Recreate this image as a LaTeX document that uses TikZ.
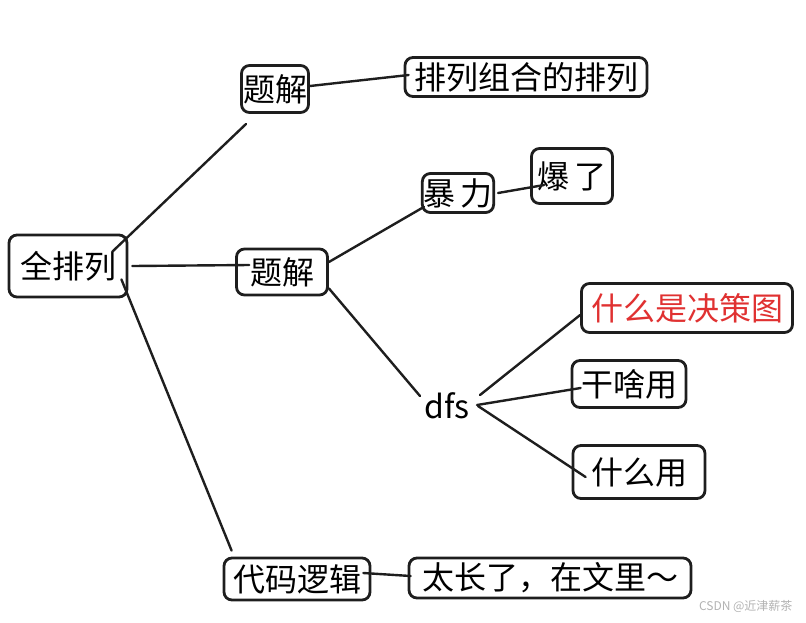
\documentclass[tikz,border=0pt]{standalone}
\usepackage{fontspec}
\setmainfont{Noto Sans CJK SC}
\usepackage{xcolor}
\usepackage{tikz}
\usetikzlibrary{calc}

\definecolor{inkred}{HTML}{E03131}
\definecolor{ink}{HTML}{1E1E1E}

\tikzset{
	box/.style={draw=ink,rounded corners=8pt,line width=2.8pt,inner sep=1pt,
		font=\fontsize{32}{38}\selectfont},
	word/.style={inner sep=0pt,font=\fontsize{32}{38}\selectfont},
	link/.style={draw=ink,line width=2.4pt,line cap=round}
}

\begin{document}
\begin{tikzpicture}[x=1pt,y=-1pt]
	\useasboundingbox (0,0) rectangle (806,622);
	
	\node[box,minimum width=118pt,minimum height=62pt] (qpl) at (68,266) {全排列};
	\node[box,minimum width=67pt,minimum height=47pt] (tja) at (275,89) {题解};
	\node[box,minimum width=242pt,minimum height=39pt] (plzh) at (526,77) {排列组合的排列};
	\node[box,minimum width=91pt,minimum height=46pt] (tjb) at (282,272) {题解};
	\node[box,minimum width=71pt,minimum height=39pt] (bl) at (458,193) {暴\,力};
	\node[box,minimum width=81pt,minimum height=55pt] (bz) at (572,176) {爆\,了};
	\node[word] (dfs) at (447,406) {dfs};
	\node[box,minimum width=211pt,minimum height=49pt,text=inkred] (jct) at (687,308) {什么是决策图};
	\node[box,minimum width=114pt,minimum height=47pt] (gsy) at (629,384) {干啥用};
	\node[box,minimum width=132pt,minimum height=53pt] (smy) at (639,472) {什么用};
	\node[box,minimum width=146pt,minimum height=42pt] (dmlj) at (297,579) {代码逻辑};
	\node[box,minimum width=282pt,minimum height=40pt] (tcl) at (550,578) {太长了，在文里～};
	
	\draw[link] ([xshift=-16pt,yshift=-18pt]qpl.north east) -- ([xshift=6pt,yshift=-10pt]tja.south west);
	\draw[link] ([xshift=4pt]qpl.east) -- ([xshift=14pt,yshift=7pt]tjb.west);
	\draw[link] ([xshift=-7pt,yshift=19pt]qpl.south east) -- ([xshift=9pt,yshift=6pt]dmlj.north west);
	\draw[link] ([yshift=3pt]tja.east) -- ([xshift=5pt,yshift=2pt]plzh.west);
	\draw[link] ([yshift=10pt]tjb.east) -- ([xshift=3pt,yshift=7pt]bl.south west);
	\draw[link] ([yshift=8pt]tjb.south east) -- ([xshift=-27pt,yshift=10pt]dfs.center);
	\draw[link] ([xshift=3pt]bl.east) -- ([xshift=14pt,yshift=-9pt]bz.west);
	\draw[link] ([xshift=33pt,yshift=11pt]dfs.center) -- ([yshift=-7pt]jct.west);
	\draw[link] ([xshift=30pt,yshift=1pt]dfs.center) -- ([xshift=10pt,yshift=-4pt]gsy.west);
	\draw[link] ([xshift=31pt]dfs.center) -- ([xshift=14pt,yshift=-5pt]smy.west);
	\draw[link] ([xshift=-8pt,yshift=6pt]dmlj.east) -- ([xshift=3pt,yshift=2pt]tcl.west);
	
	\node[text=black!30,font=\fontsize{12}{14}\selectfont,anchor=east] (mark) at (796,606) {CSDN @近津薪茶};
\end{tikzpicture}
\end{document}
